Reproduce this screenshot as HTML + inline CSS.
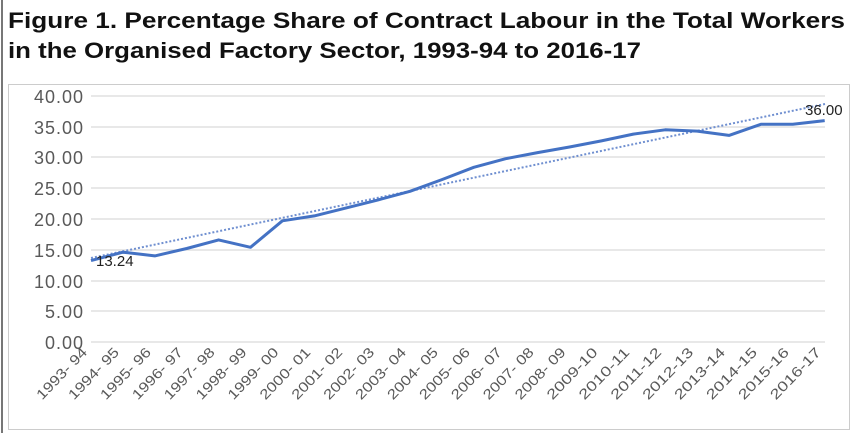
<!DOCTYPE html>
<html><head><meta charset="utf-8"><style>html,body{margin:0;padding:0;background:#fff}svg{display:block}</style></head>
<body>
<svg width="853" height="433" viewBox="0 0 853 433" xmlns="http://www.w3.org/2000/svg">
<rect x="0" y="0" width="853" height="433" fill="#fff"/>
<line x1="2" y1="0" x2="2" y2="433" stroke="#777" stroke-width="2"/>
<text x="8" y="28" font-family="Liberation Sans, sans-serif" font-weight="bold" font-size="22" fill="#111" textLength="837" lengthAdjust="spacingAndGlyphs">Figure 1. Percentage Share of Contract Labour in the Total Workers</text>
<text x="8" y="58" font-family="Liberation Sans, sans-serif" font-weight="bold" font-size="22" fill="#111" textLength="633" lengthAdjust="spacingAndGlyphs">in the Organised Factory Sector, 1993-94 to 2016-17</text>
<rect x="8.5" y="84.5" width="841" height="345" fill="#fff" stroke="#ccc"/>
<g stroke="#d9d9d9" stroke-width="1.3">
<line x1="91" y1="96" x2="825" y2="96"/><line x1="91" y1="127" x2="825" y2="127"/>
<line x1="91" y1="157" x2="825" y2="157"/><line x1="91" y1="188" x2="825" y2="188"/>
<line x1="91" y1="219" x2="825" y2="219"/><line x1="91" y1="250" x2="825" y2="250"/>
<line x1="91" y1="281" x2="825" y2="281"/><line x1="91" y1="311" x2="825" y2="311"/>
<line x1="91" y1="342" x2="825" y2="342"/>
</g>
<g font-family="Liberation Sans, sans-serif" font-size="18" fill="#595959" text-anchor="end" letter-spacing="1">
<text x="84" y="103">40.00</text><text x="84" y="134">35.00</text><text x="84" y="164">30.00</text>
<text x="84" y="195">25.00</text><text x="84" y="226">20.00</text><text x="84" y="257">15.00</text>
<text x="84" y="288">10.00</text><text x="84" y="318">5.00</text><text x="84" y="349">0.00</text>
</g>
<line x1="91" y1="258" x2="825" y2="104" stroke="#6f8fd0" stroke-width="2" stroke-dasharray="2,2"/>
<polyline fill="none" stroke="#4472c4" stroke-width="3" stroke-linejoin="round" points="91,260.6 122.9,252.2 154.8,255.9 186.7,248.5 218.6,239.9 250.5,247.3 282.4,220.8 314.3,215.9 346.2,207.9 378.1,199.9 410,191.3 441.9,179.6 473.8,167.3 505.7,158.7 537.6,152.6 569.5,147 601.4,140.9 633.3,134.1 665.2,129.8 697.1,131.1 729,135.4 760.9,124.3 792.8,124.3 824.7,120.6"/>
<g font-family="Liberation Sans, sans-serif" font-size="15" fill="#222">
<text x="96" y="266">13.24</text><text x="805" y="115">36.00</text>
</g>
<g font-family="Liberation Sans, sans-serif" font-size="14" fill="#595959" text-anchor="end">
<text transform="translate(88,353) rotate(-46)" textLength="66" lengthAdjust="spacingAndGlyphs">1993- 94</text>
<text transform="translate(119.9,353) rotate(-46)" textLength="66" lengthAdjust="spacingAndGlyphs">1994- 95</text>
<text transform="translate(151.8,353) rotate(-46)" textLength="66" lengthAdjust="spacingAndGlyphs">1995- 96</text>
<text transform="translate(183.7,353) rotate(-46)" textLength="66" lengthAdjust="spacingAndGlyphs">1996- 97</text>
<text transform="translate(215.6,353) rotate(-46)" textLength="66" lengthAdjust="spacingAndGlyphs">1997- 98</text>
<text transform="translate(247.5,353) rotate(-46)" textLength="66" lengthAdjust="spacingAndGlyphs">1998- 99</text>
<text transform="translate(279.4,353) rotate(-46)" textLength="66" lengthAdjust="spacingAndGlyphs">1999- 00</text>
<text transform="translate(311.3,353) rotate(-46)" textLength="66" lengthAdjust="spacingAndGlyphs">2000- 01</text>
<text transform="translate(343.2,353) rotate(-46)" textLength="66" lengthAdjust="spacingAndGlyphs">2001- 02</text>
<text transform="translate(375.1,353) rotate(-46)" textLength="66" lengthAdjust="spacingAndGlyphs">2002- 03</text>
<text transform="translate(407,353) rotate(-46)" textLength="66" lengthAdjust="spacingAndGlyphs">2003- 04</text>
<text transform="translate(438.9,353) rotate(-46)" textLength="66" lengthAdjust="spacingAndGlyphs">2004- 05</text>
<text transform="translate(470.8,353) rotate(-46)" textLength="66" lengthAdjust="spacingAndGlyphs">2005- 06</text>
<text transform="translate(502.7,353) rotate(-46)" textLength="66" lengthAdjust="spacingAndGlyphs">2006- 07</text>
<text transform="translate(534.6,353) rotate(-46)" textLength="66" lengthAdjust="spacingAndGlyphs">2007- 08</text>
<text transform="translate(566.5,353) rotate(-46)" textLength="66" lengthAdjust="spacingAndGlyphs">2008- 09</text>
<text transform="translate(598.4,353) rotate(-46)" textLength="66" lengthAdjust="spacingAndGlyphs">2009-10</text>
<text transform="translate(630.3,353) rotate(-46)" textLength="66" lengthAdjust="spacingAndGlyphs">2010-11</text>
<text transform="translate(662.2,353) rotate(-46)" textLength="66" lengthAdjust="spacingAndGlyphs">2011-12</text>
<text transform="translate(694.1,353) rotate(-46)" textLength="66" lengthAdjust="spacingAndGlyphs">2012-13</text>
<text transform="translate(726,353) rotate(-46)" textLength="66" lengthAdjust="spacingAndGlyphs">2013-14</text>
<text transform="translate(757.9,353) rotate(-46)" textLength="66" lengthAdjust="spacingAndGlyphs">2014-15</text>
<text transform="translate(789.8,353) rotate(-46)" textLength="66" lengthAdjust="spacingAndGlyphs">2015-16</text>
<text transform="translate(821.7,353) rotate(-46)" textLength="66" lengthAdjust="spacingAndGlyphs">2016-17</text>
</g>
</svg>
</body></html>
